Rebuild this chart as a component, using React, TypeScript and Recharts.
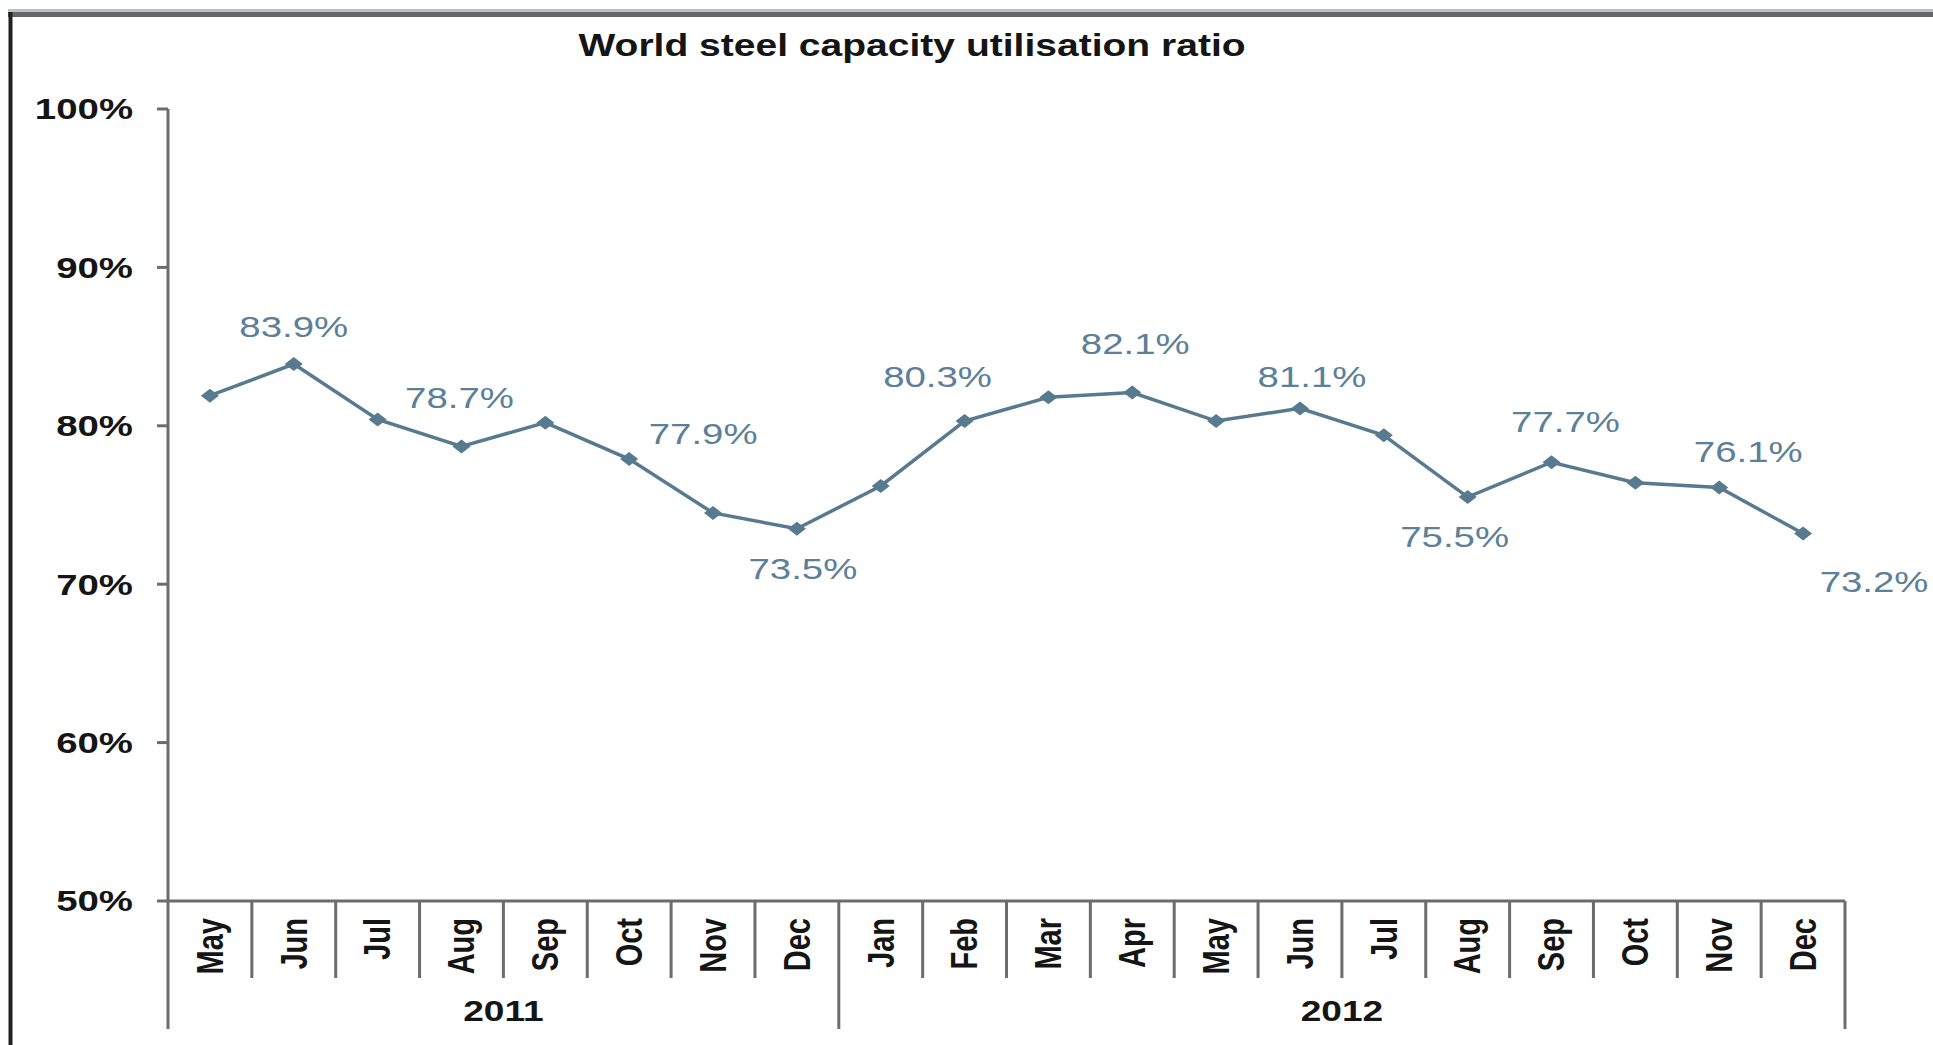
import React from "react";
import { LineChart, Line, XAxis, YAxis, LabelList } from "recharts";

// Monthly world steel capacity utilisation, May 2011 – Dec 2012
const months = ["May", "Jun", "Jul", "Aug", "Sep", "Oct", "Nov", "Dec", "Jan", "Feb", "Mar", "Apr", "May", "Jun", "Jul", "Aug", "Sep", "Oct", "Nov", "Dec"];
const ratio = [81.9, 83.9, 80.4, 78.7, 80.2, 77.9, 74.5, 73.5, 76.2, 80.3, 81.8, 82.1, 80.3, 81.1, 79.4, 75.5, 77.7, 76.4, 76.1, 73.2];
const years = ["2011", "2012"];
const yearMonths = [8, 12];
const yTicks = [50, 60, 70, 80, 90, 100];
const labelledPoints = [1, 3, 5, 7, 9, 11, 13, 15, 16, 18, 19];

// hand-placed label offsets (dx, dy) from each labelled point
const labelOffset: Record<number, [number, number]> = {
  1: [0, -37],
  3: [-2, -49],
  5: [74, -26],
  7: [6, 40],
  9: [-27, -44],
  11: [3, -49],
  13: [12, -32],
  15: [-13, 39],
  16: [14, -41],
  18: [29, -36],
  19: [71, 48],
};

const W = 1933;
const H = 1045;
const PLOT = { left: 168, right: 1845, top: 109, bottom: 901 };
const X_AXIS_H = 130;
const BAND = (PLOT.right - PLOT.left) / months.length;
const MONTH_LINE_END = 978;
const GROUP_LINE_END = 1029;
const MONTH_TOP = 918;
const YEAR_Y = 1011;

const SX = 1.28; // text is drawn wider than tall
const FONT = "'Liberation Sans', Arial, Helvetica, sans-serif";
const AXIS = "#6c6c6c";
const AXIS_W = 3;
const LINE = "#587a8f";
const LABEL = "#5c8097";

// x is the month slot; each slot is one band wide, centred on its index
const data = months.map((m, i) => ({ slot: i, month: m, ratio: ratio[i] }));
const slots = months.map((_, i) => i);
const yearStarts = yearMonths.map((_, i) => yearMonths.slice(0, i).reduce((a, b) => a + b, 0));

function StretchText({ x, y, children, anchor = "middle", size = 30, weight = 700, fill = "#151515", rotate = false }: any) {
  return (
    <text
      transform={`translate(${x},${y}) scale(${SX},1)${rotate ? " rotate(-90)" : ""}`}
      textAnchor={anchor}
      dominantBaseline="central"
      fontFamily={FONT}
      fontSize={size}
      fontWeight={weight}
      fill={fill}
    >
      {children}
    </text>
  );
}

function PercentTick({ x, y, payload }: any) {
  return (
    <StretchText x={x} y={y} anchor="end" size={30}>
      {`${payload.value}%`}
    </StretchText>
  );
}

function MonthTick({ x, payload }: any) {
  const i = payload.value;
  const left = x - BAND / 2;
  const g = yearStarts.indexOf(i);
  const isLast = i === months.length - 1;
  return (
    <g>
      <line x1={left} x2={left} y1={PLOT.bottom} y2={g >= 0 ? GROUP_LINE_END : MONTH_LINE_END} stroke={AXIS} strokeWidth={AXIS_W} />
      {isLast && (
        <line x1={left + BAND} x2={left + BAND} y1={PLOT.bottom} y2={GROUP_LINE_END} stroke={AXIS} strokeWidth={AXIS_W} />
      )}
      <StretchText x={x} y={MONTH_TOP} anchor="end" size={29} rotate>
        {months[i]}
      </StretchText>
      {g >= 0 && (
        <StretchText x={left + (yearMonths[g] * BAND) / 2} y={YEAR_Y} size={29}>
          {years[g]}
        </StretchText>
      )}
    </g>
  );
}

function Diamond({ cx, cy }: any) {
  if (cx == null || cy == null) return null;
  return <polygon points={`${cx - 9},${cy} ${cx},${cy - 7} ${cx + 9},${cy} ${cx},${cy + 7}`} fill={LINE} />;
}

function PointLabel({ x, y, value, index }: any) {
  if (!labelledPoints.includes(index)) return null;
  const [dx, dy] = labelOffset[index] ?? [0, -36];
  return (
    <StretchText x={x + dx} y={y + dy} size={30} weight={400} fill={LABEL}>
      {`${Number(value).toFixed(1)}%`}
    </StretchText>
  );
}

export default function App() {
  return (
    <div style={{ position: "absolute", left: 0, top: 0, width: W, height: H, background: "#fff", overflow: "hidden" }}>
      <LineChart
        width={W}
        height={H}
        data={data}
        margin={{ top: PLOT.top, right: W - PLOT.right, bottom: H - PLOT.bottom - X_AXIS_H, left: 0 }}
      >
        <XAxis
          dataKey="slot"
          type="number"
          domain={[-0.5, months.length - 0.5]}
          ticks={slots}
          interval={0}
          height={X_AXIS_H}
          axisLine={{ stroke: AXIS, strokeWidth: AXIS_W }}
          tickLine={false}
          tick={(p: any) => <MonthTick {...p} />}
        />
        <YAxis
          type="number"
          width={PLOT.left}
          domain={[50, 100]}
          ticks={yTicks}
          interval={0}
          axisLine={{ stroke: AXIS, strokeWidth: AXIS_W }}
          tickLine={{ stroke: AXIS, strokeWidth: AXIS_W }}
          tickSize={11}
          tickMargin={24}
          tick={(p: any) => <PercentTick {...p} />}
        />
        <Line
          dataKey="ratio"
          type="linear"
          stroke={LINE}
          strokeWidth={3.5}
          dot={(p: any) => <Diamond key={p.index} {...p} />}
          activeDot={false}
          isAnimationActive={false}
        >
          <LabelList dataKey="ratio" content={(p: any) => <PointLabel {...p} />} />
        </Line>
      </LineChart>
      <svg width={W} height={H} style={{ position: "absolute", left: 0, top: 0, pointerEvents: "none" }}>
        <rect x={8} y={9} width={W - 8} height={3} fill="#b7c3cb" />
        <rect x={8} y={12} width={W - 8} height={5} fill="#666" />
        <rect x={8.5} y={12} width={4} height={H - 12} fill="#222" />
        <StretchText x={912} y={45} size={30.5}>
          World steel capacity utilisation ratio
        </StretchText>
      </svg>
    </div>
  );
}
